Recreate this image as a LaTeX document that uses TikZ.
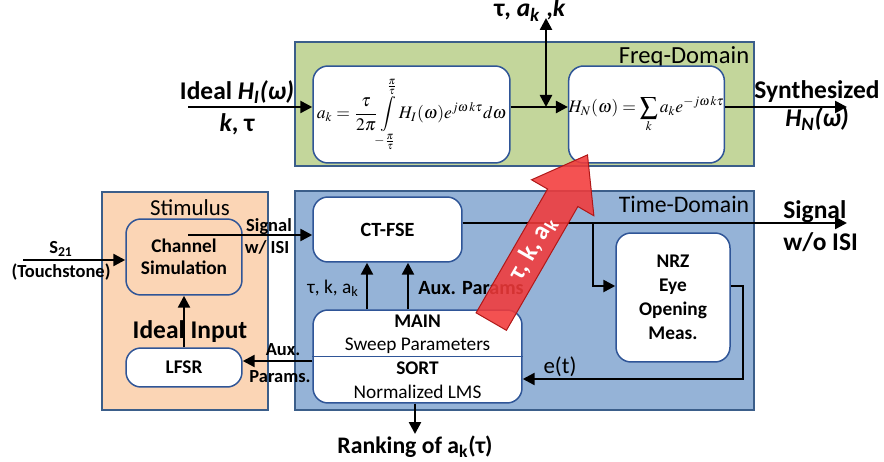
\documentclass[tikz,border=0pt]{standalone}
\usepackage{amsmath}
\usepackage{mathptmx}
\usepackage{fontspec}
\setmainfont{Carlito}
\usetikzlibrary{arrows.meta,shapes.arrows}

\definecolor{grnfill}{HTML}{C3D69B}
\definecolor{blufill}{HTML}{95B3D7}
\definecolor{pchfill}{HTML}{FBD5B5}
\definecolor{frameclr}{HTML}{3B5E8A}
\definecolor{boxclr}{HTML}{2F5597}
\definecolor{arrred}{HTML}{F23A3A}
\definecolor{arrdark}{HTML}{B01818}

\begin{document}
\begin{tikzpicture}[x=0.02cm,y=-0.02cm,
                    >={Triangle[length=0.24cm,width=0.24cm]},
                    zone/.style={draw=frameclr,line width=0.035cm,inner sep=0pt},
                    box/.style={draw=boxclr,line width=0.03cm,fill=white,rounded corners=0.3cm,inner sep=0pt},
                    conn/.style={line width=0.05cm},
                    biglbl/.style={font=\fontsize{14.5}{16}\selectfont\bfseries,inner sep=0pt},
                    midlbl/.style={font=\fontsize{10.5}{12}\selectfont\bfseries,inner sep=0pt},
                    tkarrow/.style={single arrow,fill=arrred,fill opacity=0.88,text opacity=1,draw=arrdark,
                                    line width=0.02cm,text=white,font=\fontsize{14.5}{16}\selectfont\bfseries,
                                    minimum height=3.85cm,single arrow head extend=0.37cm,single arrow tip angle=72,
                                    inner xsep=2pt,inner ysep=0.14cm,text height=0.32cm,text depth=0.08cm}]
                    \useasboundingbox (0,0) rectangle (884,462);

                    \node[zone,fill=grnfill,minimum width=9.18cm,minimum height=2.48cm] (freq) at (524.5,104) {};
                    \node[zone,fill=blufill,minimum width=9.18cm,minimum height=4.38cm] (time) at (524.5,300.5) {};
                    \node[zone,fill=pchfill,minimum width=3.32cm,minimum height=4.36cm] (stim) at (185,301) {};
                    \node[anchor=north east,inner sep=3pt,font=\fontsize{14}{16}\selectfont] at (freq.north east) {Freq-Domain};
                    \node[anchor=north east,inner sep=3pt,font=\fontsize{13.5}{16}\selectfont] at (time.north east) {Time-Domain};
                    \node[font=\fontsize{13}{15}\selectfont] at (190,208) {Stimulus};

                    \node[box,minimum width=3.94cm,minimum height=1.94cm,font=\fontsize{10}{12}\selectfont] (coeff) at (411.5,114.5)
                        {$\displaystyle a_k=\frac{\tau}{2\pi}\!\int\limits_{-\frac{\pi}{\tau}}^{\frac{\pi}{\tau}}\!H_I(\omega)e^{j\omega\,k\tau}d\omega$};
                    \node[box,minimum width=3.1cm,minimum height=1.94cm,font=\fontsize{10}{12}\selectfont] (synth) at (646.5,114.5)
                        {$\displaystyle H_N(\omega)=\sum_k a_k e^{-j\omega\,k\tau}$};

                    \node[box,fill=pchfill,minimum width=2.32cm,minimum height=1.52cm,align=center,
                          font=\fontsize{11}{12.5}\selectfont\bfseries] (chan) at (184,257) {Channel\\Simulation};
                    \node[box,minimum width=2.32cm,minimum height=0.78cm,font=\fontsize{11}{12.5}\selectfont\bfseries] (lfsr) at (184,367.5) {LFSR};
                    \node[box,minimum width=2.98cm,minimum height=1.3cm,font=\fontsize{11.5}{13}\selectfont\bfseries] (ctfse) at (387.5,229.5) {CT-FSE};
                    \node[box,minimum width=4.18cm,minimum height=1.86cm,align=center,font=\fontsize{11}{13.4}\selectfont] (main) at (417.5,356.5)
                        {\textbf{MAIN}\\Sweep Parameters\\\textbf{SORT}\\Normalized LMS};
                    \draw[draw=boxclr,line width=0.03cm] (main.west) -- (main.east);
                    \node[box,minimum width=2.28cm,minimum height=2.58cm,align=center,font=\fontsize{11}{13.6}\selectfont\bfseries] (nrz) at (673,297.5)
                        {NRZ\\Eye\\Opening\\Meas.};

                    \node[biglbl] at (237,92) {Ideal \textit{H}\textsubscript{\textit{I}}\textit{(ω)}};
                    \node[biglbl] at (237,124) {\textit{k}, τ};
                    \node[biglbl] at (530,10) {τ, \textit{a}\textsubscript{\textit{k}} ,\textit{k}};
                    \node[biglbl] at (817,92) {Synthesized};
                    \node[biglbl] at (817,119) {\textit{H}\textsubscript{\textit{N}}\textit{(ω)}};
                    \node[biglbl,anchor=west] at (783,212) {Signal};
                    \node[biglbl,anchor=west] at (783,242) {w/o ISI};
                    \node[biglbl] at (190,332) {Ideal Input};
                    \node[midlbl] at (61,249) {S\textsubscript{21}};
                    \node[midlbl] at (61,272) {(Touchstone)};
                    \node[midlbl] at (269,227) {Signal};
                    \node[midlbl] at (267,247) {w/ ISI};
                    \node[midlbl] at (283,350) {Aux.};
                    \node[midlbl] at (280,377) {Params.};
                    \node[inner sep=0pt,font=\fontsize{11}{13}\selectfont] at (333,288) {τ, k, a\textsubscript{k}};
                    \node[inner sep=0pt,anchor=west,font=\fontsize{11.5}{13}\selectfont\bfseries] at (418,288) {Aux. Params};
                    \node[inner sep=1pt,anchor=north,font=\fontsize{13.5}{15}\selectfont\bfseries] (rank) at (415,434) {Ranking of a\textsubscript{k}(τ)};
                    \node[inner sep=0pt,font=\fontsize{13}{15}\selectfont] at (560,367) {e(t)};

                    \coordinate (hin) at (188,107);
                    \coordinate (tk) at (546,18);
                    \coordinate (hout) at (847,107);
                    \coordinate (s21) at (23,260);
                    \coordinate (sig) at (188,235);
                    \coordinate (p1) at (367,0);
                    \coordinate (p2) at (408,0);
                    \coordinate (out) at (847,223);
                    \coordinate (br) at (593,223);
                    \coordinate (ey) at (0,286);
                    \coordinate (et) at (743,379);

                    \draw[conn,->] (hin) -- (hin -| coeff.west);
                    \draw[conn,->] (hin -| coeff.east) -- (hin -| synth.west);
                    \draw[conn,<->] (tk) -- (tk |- hin);
                    \draw[conn,->] (hin -| synth.east) -- (hout);
                    \draw[conn,->] (s21) -- (s21 -| chan.west);
                    \draw[conn,->] (sig) -- (sig -| ctfse.west);
                    \draw[conn,->] (lfsr) -- (chan);
                    \draw[conn,->] ([yshift=-0.09cm]main.west) -- ([yshift=-0.09cm]main.west -| lfsr.east);
                    \draw[conn,->] (main.north -| p1) -- (ctfse.south -| p1);
                    \draw[conn,->] (main.north -| p2) -- (ctfse.south -| p2);
                    \draw[conn,->] (main.south -| rank) -- (rank);
                    \draw[conn,->] (ctfse.east |- out) -- (out);
                    \draw[conn,->] (br) |- (nrz.west |- ey);
                    \draw[conn,->] (nrz.east |- ey) -| (et) -- (et -| main.east);

                    \node[tkarrow,anchor=tail,rotate=60] (tka) at (491,322) {τ, k, a\textsubscript{k}};
                \end{tikzpicture}
\end{document}
